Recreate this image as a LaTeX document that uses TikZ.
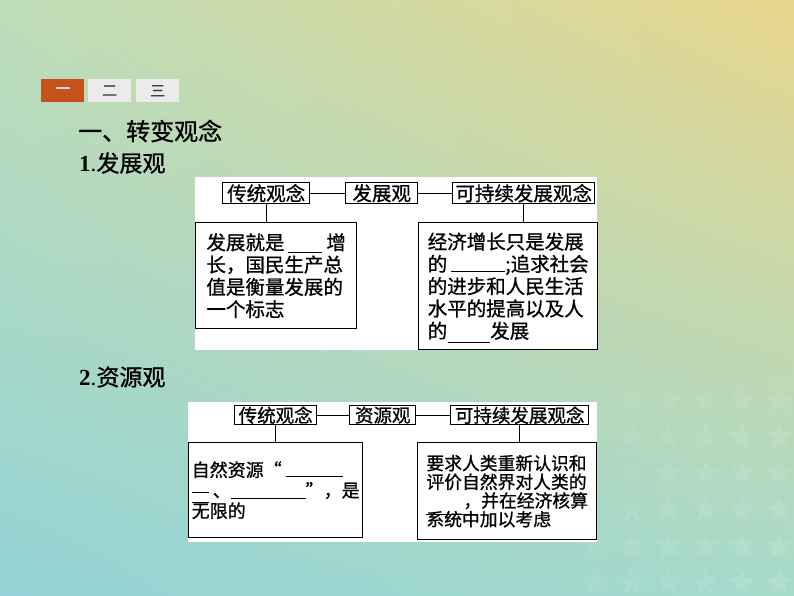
\documentclass[tikz,border=0pt]{standalone}
\usepackage{fontspec}
\setmainfont{Liberation Serif}
\newfontfamily\cjk{Noto Sans CJK SC}[FakeBold=0.9]
\usetikzlibrary{shapes.geometric,shadings}
\definecolor{bgUL}{HTML}{BEDDB8}
\definecolor{bgUR}{HTML}{E8D68C}
\definecolor{bgLL}{HTML}{94D3D6}
\definecolor{bgLR}{HTML}{A6DACB}
\definecolor{tabred}{HTML}{C6521B}
\definecolor{tabgray}{HTML}{EBEBEB}
\definecolor{tabtext}{HTML}{404040}
\newcommand\blankline[2][3pt]{\smash{\rule[-#1]{#2}{0.9pt}}}
\begin{document}
\begin{tikzpicture}[x=1pt,y=-1pt,
  tab/.style={anchor=north west, minimum width=43pt, minimum height=23pt, inner sep=0pt,
    font=\cjk\fontsize{15}{15}\selectfont},
  heading/.style={anchor=west, inner sep=0pt, font=\cjk\fontsize{23}{23}\selectfont},
  panel/.style={anchor=north west, fill=white, inner sep=0pt},
  ttlA/.style={anchor=north west, draw, line width=1.4pt, fill=white, inner sep=0pt,
    minimum height=21pt, font=\cjk\fontsize{19.5}{19.5}\selectfont},
  ttlB/.style={anchor=north west, draw, line width=1.4pt, fill=white, inner sep=0pt,
    minimum height=19pt, font=\cjk\fontsize{18.5}{18.5}\selectfont},
  boxA/.style={anchor=north west, draw, line width=1.4pt, fill=white, inner sep=0pt,
    align=left, font=\cjk\fontsize{19.5}{22.3}\selectfont},
  boxB/.style={anchor=north west, draw, line width=1.4pt, fill=white, inner sep=0pt,
    align=left},
  conn/.style={line width=1.1pt},
  starsh/.style={star, star points=5, star point ratio=2.2, minimum size=26pt,
    inner sep=0pt, fill=white, draw=none}
]
\useasboundingbox (0,0) rectangle (794,596);
\shade[upper left=bgUL, upper right=bgUR, lower left=bgLL, lower right=bgLR]
  (0,0) rectangle (794,596);

% faint stars
\foreach \c in {0,...,4}{
  \foreach \r in {0,...,5}{
    \pgfmathsetmacro\op{0.06+0.006*(\c+\r)}
    \node[starsh, fill opacity=\op] (s\c\r) at ({632+36.7*\c},{400+36.6*\r}) {};
  }
}
\node[starsh, fill opacity=0.05] (sm4) at (595,546) {};
\node[starsh, fill opacity=0.06] (sm5) at (595,583) {};

% tabs
\node[tab, fill=tabred, text=white] (tab1) at (41,79) {一};
\node[tab, fill=tabgray, text=tabtext] (tab2) at (88,79) {二};
\node[tab, fill=tabgray, text=tabtext] (tab3) at (136,79) {三};

% headings
\node[heading, font=\cjk\fontsize{24}{24}\selectfont] (h0) at (78,131) {一、转变观念};
\node[heading] (h1) at (79,163) {{\rmfamily\bfseries 1}{\rmfamily .}发展观};
\node[heading] (h2) at (79,377) {{\rmfamily\bfseries 2}{\rmfamily .}资源观};

% ---------- diagram 1 ----------
\node[panel, minimum width=402pt, minimum height=173pt] (pan1) at (195,177) {};
\node[ttlA, minimum width=87pt] (a1) at (222,182) {传统观念};
\node[ttlA, minimum width=72pt] (a2) at (345,182) {发展观};
\node[ttlA, minimum width=142pt] (a3) at (452,182) {可持续发展观念};
\node[boxA, minimum width=161pt, minimum height=106pt] (b1) at (195,222)
  {发展就是\hspace{4pt}\blankline{34pt}\hspace{4pt}增\\长，国民生产总\\值是衡量发展的\\一个标志};
\node[boxA, minimum width=179pt, minimum height=127pt] (b2) at (418,222)
  {经济增长只是发展\\的\hspace{4pt}\blankline[1pt]{54pt};追求社会\\的进步和人民生活\\水平的提高以及人\\的\hspace{1pt}\blankline[5pt]{42pt}发展};
\draw[conn] (a1) -- (a2);
\draw[conn] (a2) -- (a3);
\draw[conn] (a1.south) -- (a1.south |- b1.north);
\draw[conn] (a3.south) -- (a3.south |- b2.north);

% ---------- diagram 2 ----------
\node[panel, minimum width=409pt, minimum height=140pt] (pan2) at (188,402) {};
\node[ttlB, minimum width=82pt] (c1) at (234,405) {传统观念};
\node[ttlB, minimum width=66pt] (c2) at (349,405) {资源观};
\node[ttlB, minimum width=138pt] (c3) at (450,405) {可持续发展观念};
\node[boxB, minimum width=174pt, minimum height=95pt,
  font=\cjk\fontsize{18}{20.5}\selectfont] (d1) at (188,442)
  {自然资源“\hspace{4pt}\blankline[0pt]{57pt}\\\smash{\rule[4pt]{17pt}{0.9pt}}\hspace{4pt}、\blankline[2pt]{75pt}”，是\\\rlap{\smash{\rule[15pt]{17pt}{0.9pt}}}无限的};
\node[boxB, minimum width=179pt, minimum height=97pt,
  font=\cjk\fontsize{17.8}{18.7}\selectfont] (d2) at (417,442)
  {要求人类重新认识和\\评价自然界对人类的\\\blankline[8pt]{37pt}，并在经济核算\\系统中加以考虑};
\draw[conn] (c1) -- (c2);
\draw[conn] (c2) -- (c3);
\draw[conn] (c1.south) -- (c1.south |- d1.north);
\draw[conn] (c3.south) -- (c3.south |- d2.north);
\end{tikzpicture}
\end{document}
